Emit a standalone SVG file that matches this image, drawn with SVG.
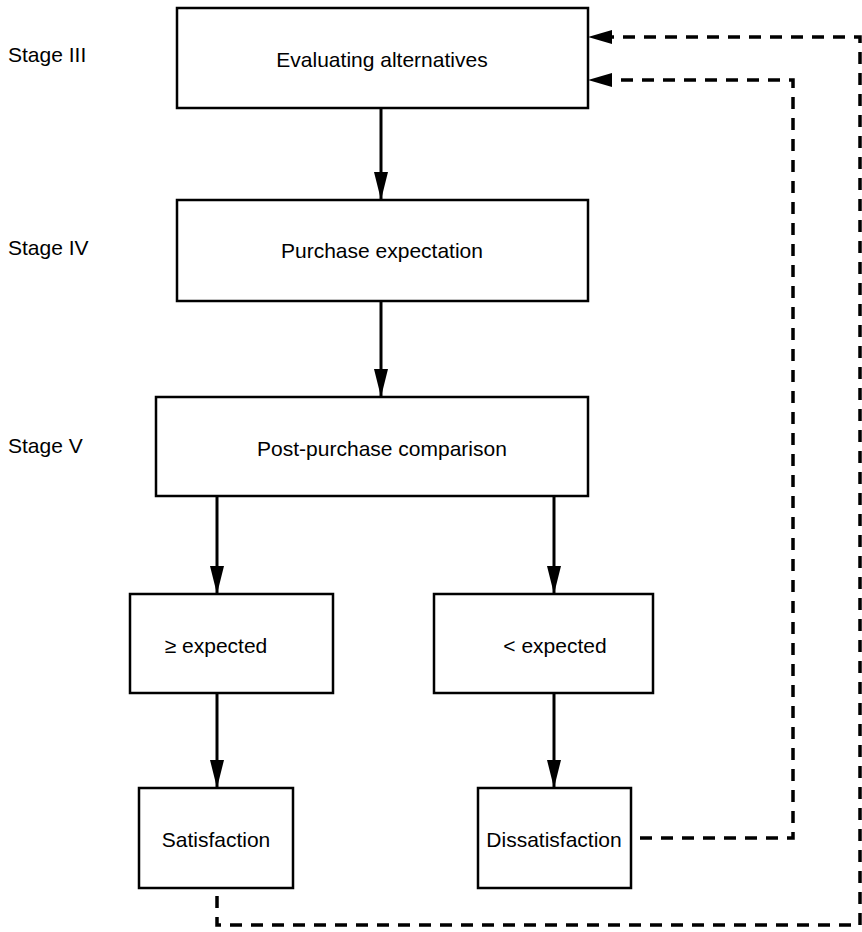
<svg xmlns="http://www.w3.org/2000/svg" width="862" height="932" viewBox="0 0 862 932">
<style>
.box{fill:#fff;stroke:#000;stroke-width:2.5}
.t{font-family:"Liberation Sans",Arial,sans-serif;font-size:21px;fill:#000;text-anchor:middle;dominant-baseline:central}
.s{font-family:"Liberation Sans",Arial,sans-serif;font-size:21px;fill:#000;dominant-baseline:central}
.ln{stroke:#000;stroke-width:3;fill:none}
.dl{stroke:#000;stroke-width:3.5;fill:none;stroke-dasharray:12 9}
</style>
<defs>
<marker id="ah2" viewBox="0 0 28 14" refX="28" refY="7" markerWidth="28" markerHeight="14" orient="auto" markerUnits="userSpaceOnUse">
<path d="M0,0 L28,7 L0,14 Z" fill="#000"/>
</marker>
</defs>
<g id="labels">
<text class="s" x="8" y="54">Stage III</text>
<text class="s" x="8" y="247">Stage IV</text>
<text class="s" x="8" y="445">Stage V</text>
</g>
<g id="n1"><rect class="box" x="177" y="8" width="411" height="100"/><text class="t" x="382" y="59">Evaluating alternatives</text></g>
<g id="n2"><rect class="box" x="177" y="200" width="411" height="101"/><text class="t" x="382" y="250">Purchase expectation</text></g>
<g id="n3"><rect class="box" x="156" y="397" width="432" height="99"/><text class="t" x="382" y="448">Post-purchase comparison</text></g>
<g id="n4"><rect class="box" x="130" y="594" width="203" height="99"/><text class="t" x="216" y="645">≥ expected</text></g>
<g id="n5"><rect class="box" x="434" y="594" width="219" height="99"/><text class="t" x="555" y="645">&lt; expected</text></g>
<g id="n6"><rect class="box" x="139" y="788" width="154" height="100"/><text class="t" x="216" y="839">Satisfaction</text></g>
<g id="n7"><rect class="box" x="478" y="788" width="153" height="100"/><text class="t" x="554" y="839">Dissatisfaction</text></g>
<g id="connectors">
<line class="ln" x1="381" y1="108" x2="381" y2="200" marker-end="url(#ah2)"/>
<line class="ln" x1="381" y1="301" x2="381" y2="397" marker-end="url(#ah2)"/>
<line class="ln" x1="217" y1="496" x2="217" y2="594" marker-end="url(#ah2)"/>
<line class="ln" x1="554" y1="496" x2="554" y2="594" marker-end="url(#ah2)"/>
<line class="ln" x1="217" y1="693" x2="217" y2="788" marker-end="url(#ah2)"/>
<line class="ln" x1="554" y1="693" x2="554" y2="788" marker-end="url(#ah2)"/>
<path class="dl" d="M217,896 L217,925 L860,925 L860,37 L610,37"/>
<path d="M588,37 L612,30 L612,44 Z" fill="#000"/>
<path class="dl" d="M640,838 L793,838 L793,80 L610,80"/>
<path d="M588,80 L612,73 L612,87 Z" fill="#000"/>
</g>
</svg>
